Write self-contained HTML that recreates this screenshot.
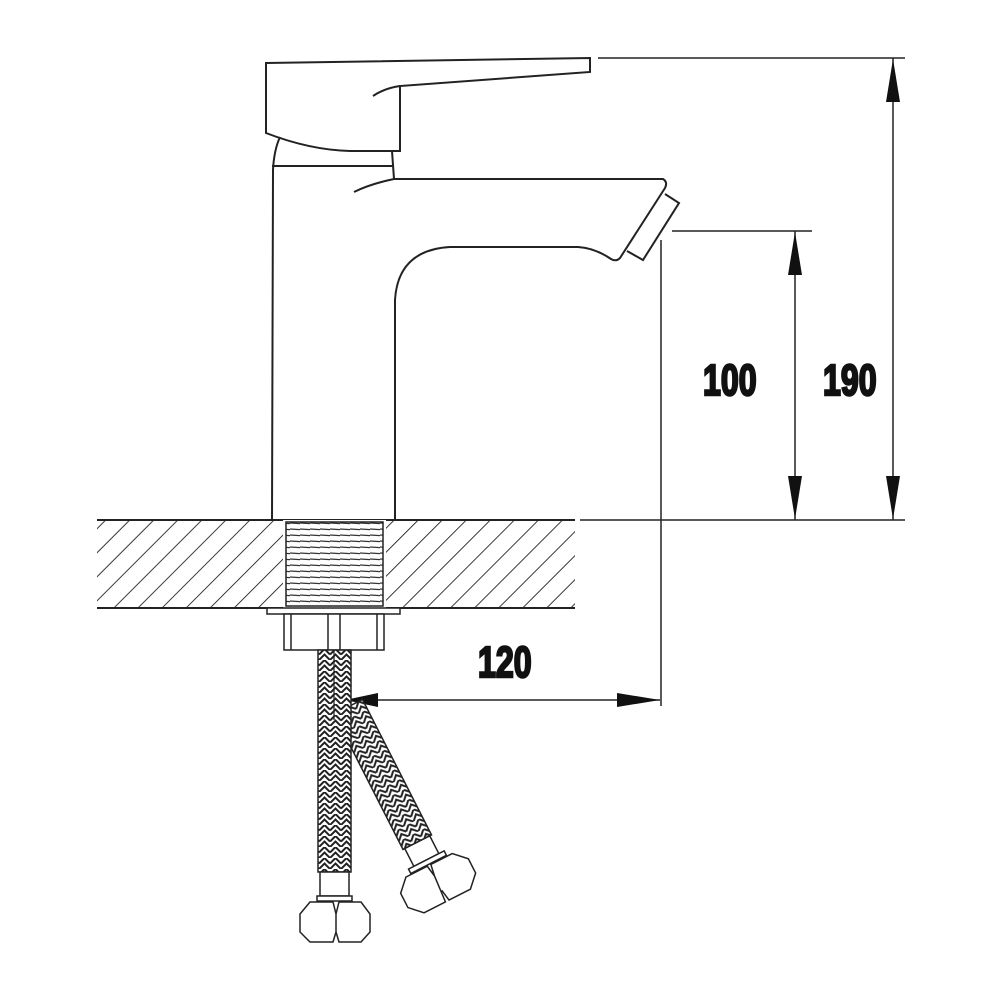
<!DOCTYPE html>
<html><head><meta charset="utf-8"><style>html,body{margin:0;padding:0;background:#fff}svg{display:block}</style></head>
<body>
<svg width="1000" height="1000" viewBox="0 0 1000 1000" xmlns="http://www.w3.org/2000/svg">
<defs>
<pattern id="hatch" width="17" height="17" patternUnits="userSpaceOnUse" patternTransform="rotate(45)">
<line x1="0" y1="0" x2="0" y2="17" stroke="#222" stroke-width="1.8"/>
</pattern>
<pattern id="thread" width="10" height="6" patternUnits="userSpaceOnUse">
<line x1="0" y1="1" x2="10" y2="1.6" stroke="#333" stroke-width="1.3"/>
</pattern>
<pattern id="braid" width="11" height="11" patternUnits="userSpaceOnUse">
<rect width="11" height="11" fill="#fff"/>
<path d="M0 5.5 L5.5 0 L11 5.5 M0 11 L5.5 5.5 L11 11" stroke="#222" stroke-width="2" fill="none"/>
</pattern>
</defs>
<g fill="none" stroke="#222" stroke-width="2">
<path d="M266 63 L590 58 L590 72 L400 86 L400 151 L350 151 Q310 150 266 133 Z"/>
<path d="M400 86 Q385 88 373 96"/>
<path d="M280 137 Q274 150 273 170 L272 520"/>
<line x1="272" y1="166" x2="394" y2="166"/>
<path d="M392 151 L394 179"/>
<path d="M394 179 Q370 184 354 192"/>
<path d="M394 179 L663 179 Q668 182 665 188 L620 258 Q616 262 611 259 Q595 248 578 247 L450 247 Q398 250 395 300 L395 520"/>
<path d="M665 194 L679 203 L643 260 L627 251"/>
<g stroke-width="1.5">
<line x1="598" y1="58" x2="905" y2="58"/>
<line x1="672" y1="231" x2="812" y2="231"/>
<line x1="661" y1="240" x2="661" y2="706"/>
<line x1="795" y1="231" x2="795" y2="520"/>
<line x1="893" y1="58" x2="893" y2="520"/>
<line x1="580" y1="520" x2="905" y2="520"/>
<line x1="345" y1="700" x2="660" y2="700"/>
</g>
</g>
<g fill="#111">
<path d="M795 232 L788 275 L802 275 Z"/>
<path d="M795 519 L788 476 L802 476 Z"/>
<path d="M893 59 L886 102 L900 102 Z"/>
<path d="M893 519 L886 476 L900 476 Z"/>
<path d="M345 700 L378 693 L378 707 Z"/>
<path d="M660 700 L617 693 L617 707 Z"/>
</g>
<g font-family="Liberation Sans, sans-serif" font-weight="bold" font-size="44" fill="#111" stroke="#111" stroke-width="2.5">
<text transform="translate(703,395) scale(0.73,1)">100</text>
<text transform="translate(823,395) scale(0.73,1)">190</text>
<text transform="translate(478,677) scale(0.73,1)">120</text>
</g>
<rect x="97" y="520" width="478" height="88" fill="url(#hatch)"/>
<g stroke="#222" stroke-width="2" fill="none">
<line x1="97" y1="520" x2="575" y2="520"/>
<line x1="97" y1="608" x2="575" y2="608"/>
</g>
<rect x="283" y="520" width="103" height="88" fill="#fff"/>
<rect x="286" y="522" width="97" height="84" fill="url(#thread)" stroke="#222" stroke-width="1.5"/>
<rect x="267" y="608" width="133" height="6" fill="#fff" stroke="#222" stroke-width="1.5"/>
<g stroke="#222" stroke-width="1.5" fill="#fff">
<rect x="284" y="614" width="100" height="36"/>
<line x1="291" y1="614" x2="291" y2="650"/>
<line x1="328" y1="614" x2="328" y2="650"/>
<line x1="340" y1="614" x2="340" y2="650"/>
<line x1="377" y1="614" x2="377" y2="650"/>
</g>
<g transform="translate(334,714) rotate(-27)">
<rect x="0" y="0" width="32" height="152" fill="url(#braid)" stroke="#222" stroke-width="1.5"/>
<rect x="2" y="152" width="28" height="20" fill="#fff" stroke="#222" stroke-width="1.5"/>
<rect x="-4" y="172" width="40" height="5" fill="#fff" stroke="#222" stroke-width="1.5"/>
<path d="M-22 190 L-10 178 L14 178 L16 190 L14 218 L-10 218 L-22 206 Z M16 190 L18 178 L42 178 L54 190 L54 206 L42 218 L18 218 L16 206" fill="#fff" stroke="#222" stroke-width="1.5"/>
</g>
<rect x="318" y="650" width="33" height="222" fill="url(#braid)" stroke="#222" stroke-width="1.5"/>
<line x1="334" y1="650" x2="334" y2="720" stroke="#222" stroke-width="1.2"/>
<rect x="320" y="872" width="29" height="24" fill="#fff" stroke="#222" stroke-width="1.5"/>
<rect x="317" y="896" width="35" height="5" fill="#fff" stroke="#222" stroke-width="1.5"/>
<path d="M300 914 L310 902 L333 902 L336 914 L336 932 L333 942 L310 942 L300 932 Z M336 914 L339 902 L361 902 L370 914 L370 932 L361 942 L339 942 L336 932" fill="#fff" stroke="#222" stroke-width="1.5"/>
</svg>
</body></html>
